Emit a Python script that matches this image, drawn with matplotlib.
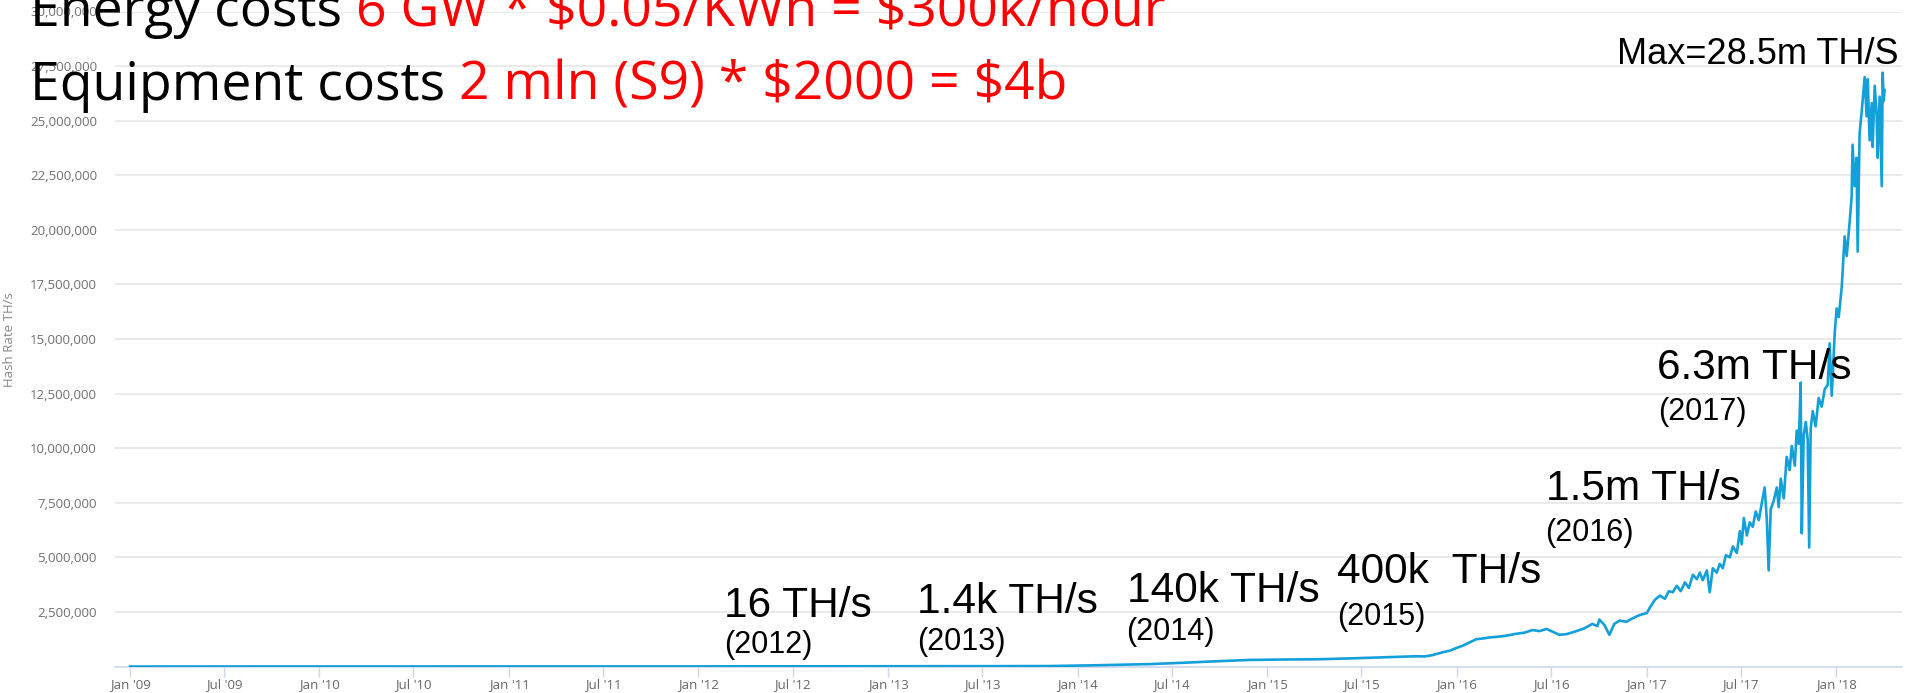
from datetime import datetime, timedelta

import matplotlib
matplotlib.use("Agg")
import matplotlib.pyplot as plt
import matplotlib.dates as mdates
from matplotlib.ticker import FixedLocator, FuncFormatter

plt.rcParams["text.parse_math"] = False

# hash rate, date as decimal year, value in million TH/s
year_pos = [
    2009.0, 2010.0, 2011.0, 2012.0, 2013.0, 2013.5, 2013.852,
    2014.116, 2014.380, 2014.554, 2014.733, 2014.907, 2015.081, 2015.260,
    2015.435, 2015.609, 2015.698, 2015.788, 2015.830, 2015.872, 2015.925,
    2015.962, 2015.999, 2016.031, 2016.068, 2016.104, 2016.136, 2016.173,
    2016.226, 2016.268, 2016.315, 2016.358, 2016.400, 2016.437, 2016.474,
    2016.505, 2016.542, 2016.579, 2016.632, 2016.674, 2016.716, 2016.743,
    2016.753, 2016.780, 2016.806, 2016.832, 2016.859, 2016.896, 2016.927,
    2016.964, 2017.001, 2017.017, 2017.043, 2017.070, 2017.096, 2017.117,
    2017.138, 2017.159, 2017.180, 2017.202, 2017.223, 2017.244, 2017.265,
    2017.281, 2017.296, 2017.318, 2017.333, 2017.349, 2017.370, 2017.386,
    2017.402, 2017.418, 2017.439, 2017.455, 2017.476, 2017.492, 2017.502,
    2017.513, 2017.529, 2017.544, 2017.560, 2017.576, 2017.592, 2017.608,
    2017.623, 2017.634, 2017.644, 2017.655, 2017.671, 2017.687, 2017.697,
    2017.708, 2017.724, 2017.739, 2017.755, 2017.766, 2017.782, 2017.792,
    2017.803, 2017.813, 2017.819, 2017.829, 2017.840, 2017.850, 2017.858,
    2017.866, 2017.877, 2017.892, 2017.908, 2017.924, 2017.940, 2017.956,
    2017.966, 2017.977, 2017.993, 2018.003, 2018.014, 2018.030, 2018.045,
    2018.056, 2018.072, 2018.082, 2018.087, 2018.098, 2018.108, 2018.114,
    2018.124, 2018.135, 2018.146, 2018.151, 2018.161, 2018.167, 2018.177,
    2018.188, 2018.193, 2018.204, 2018.214, 2018.219, 2018.230, 2018.241,
    2018.246, 2018.251, 2018.256,
]
hash_rate_m = [
    0.0, 0.0, 0.0, 0.005, 0.01, 0.015, 0.02,
    0.06, 0.11, 0.17, 0.24, 0.30, 0.32, 0.33,
    0.37, 0.42, 0.45, 0.47, 0.46, 0.52, 0.65,
    0.72, 0.85, 0.95, 1.10, 1.25, 1.28, 1.33,
    1.37, 1.42, 1.50, 1.55, 1.67, 1.62, 1.72,
    1.60, 1.45, 1.48, 1.62, 1.75, 1.95, 1.85,
    2.15, 1.90, 1.45, 1.95, 2.10, 2.05, 2.20,
    2.35, 2.45, 2.70, 3.05, 3.25, 3.10, 3.45,
    3.40, 3.70, 3.45, 3.85, 3.60, 4.20, 4.00,
    4.30, 3.95, 4.40, 3.40, 4.50, 4.30, 4.70,
    4.50, 5.10, 5.00, 5.50, 5.20, 6.20, 5.60,
    6.80, 6.00, 6.60, 6.40, 7.10, 6.70, 7.50,
    8.20, 6.80, 4.40, 7.20, 7.60, 8.20, 7.30,
    8.60, 7.70, 9.60, 9.00, 10.10, 9.20, 10.80,
    10.20, 13.00, 6.10, 10.60, 11.20, 10.40, 5.45,
    10.90, 11.70, 11.00, 12.30, 11.90, 12.70, 12.90,
    14.80, 12.40, 15.30, 16.40, 16.00, 17.40, 19.70,
    18.80, 20.40, 21.50, 23.90, 22.00, 23.30, 19.00,
    24.40, 25.40, 26.50, 27.00, 25.20, 26.90, 24.10,
    25.80, 23.80, 26.60, 25.30, 23.30, 26.10, 22.00,
    27.20, 25.90, 26.40,
]

y_ticks = [2.5e6 * k for k in range(1, 13)]

big_labels = ["16 TH/s", "1.4k TH/s", "140k TH/s", "400k  TH/s",
              "1.5m TH/s", "6.3m TH/s"]
year_labels = ["(2012)", "(2013)", "(2014)", "(2015)", "(2016)", "(2017)"]
max_label = "Max=28.5m TH/S"

cost_lines = [("Energy costs ", "6 GW * $0.05/KWh = $300k/hour"),
              ("Equipment costs ", "2 mln (S9) * $2000 = $4b")]


def to_date(y):
    yr = int(y)
    return datetime(yr, 1, 1) + timedelta(days=(y - yr) * 365)


W, H = 1915, 693
fig = plt.figure(figsize=(W / 100, H / 100), dpi=100)
ax = fig.add_axes([115 / W, 1 - 666.5 / H, (1902 - 115) / W, (666.5 - 11.5) / H])

dates = [to_date(y) for y in year_pos]
ax.plot(dates, [v * 1e6 for v in hash_rate_m], color="#13a0d8", lw=1.9,
        zorder=3)

ax.set_ylim(0, 30e6)
ax.set_xlim(datetime(2008, 12, 3), datetime(2018, 5, 8))

ax.yaxis.set_major_locator(FixedLocator(y_ticks))
ax.yaxis.set_major_formatter(FuncFormatter(lambda v, p: f"{int(v):,}"))
ax.xaxis.set_major_locator(mdates.MonthLocator(bymonth=(1, 7)))
ax.xaxis.set_major_formatter(mdates.DateFormatter("%b '%y"))

ax.grid(axis="y", color="#e6e6e6", lw=1.2)
ax.set_axisbelow(True)
for s in ["top", "right", "left"]:
    ax.spines[s].set_visible(False)
ax.spines["bottom"].set_color("#ccd6eb")
ax.spines["bottom"].set_linewidth(1.2)

ax.tick_params(axis="y", length=0, pad=13, labelsize=9.5,
               labelcolor="#707070", labelfontfamily="Open Sans")
ax.tick_params(axis="x", length=7, width=1, color="#ccd6eb", pad=1,
               labelsize=9.5, labelcolor="#666666",
               labelfontfamily="Open Sans")

fig.text(10 / W, 1 - 340 / H, "Hash Rate TH/s", rotation=90, ha="center",
         va="center", fontsize=9.5, color="#888888", family="Open Sans")

# annotations, placed in figure pixels (left edge, baseline)
big_pos = [(724, 617), (917, 613), (1127, 602), (1337, 583), (1546, 500),
           (1657, 379)]
year_pos_px = [(724, 653), (917, 650), (1126, 640), (1337, 625),
               (1545, 541), (1658, 420)]
for txt, (x, y) in zip(big_labels, big_pos):
    fig.text(x / W, 1 - y / H, txt, fontsize=30.5, family="Liberation Sans",
             va="baseline", ha="left")
for txt, (x, y) in zip(year_labels, year_pos_px):
    fig.text(x / W, 1 - y / H, txt, fontsize=22, family="Liberation Sans",
             va="baseline", ha="left")
fig.text(1617 / W, 1 - 64 / H, max_label, fontsize=26,
         family="Liberation Sans", va="baseline", ha="left")

fig.canvas.draw()
renderer = fig.canvas.get_renderer()
for (black, red), y in zip(cost_lines, [26, 100]):
    t = fig.text(30 / W, 1 - y / H, black, fontsize=38.5, family="Open Sans",
                 va="baseline", ha="left", color="black")
    bb = t.get_window_extent(renderer)
    fig.text(bb.x1 / W, 1 - y / H, red, fontsize=38.5, family="Open Sans",
             va="baseline", ha="left", color="#ff0000")

fig.savefig("out.png", dpi=100)
